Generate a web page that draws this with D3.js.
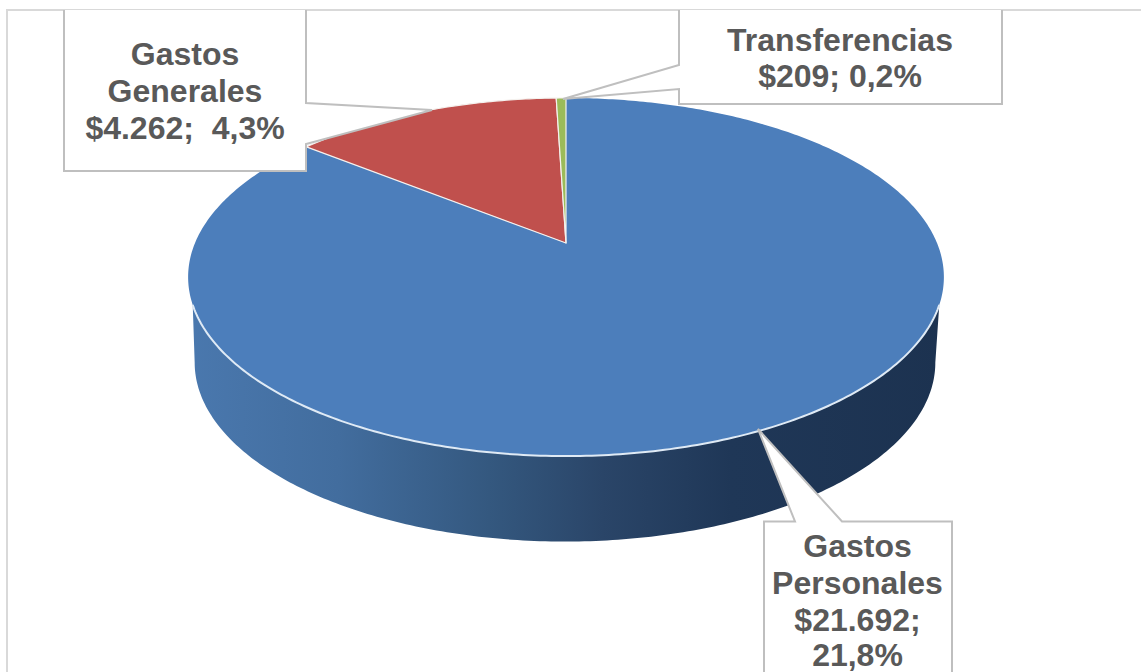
<!DOCTYPE html>
<html><head><meta charset="utf-8">
<style>html,body{margin:0;padding:0;background:#fff;overflow:hidden}svg{display:block}</style>
<script src="https://cdn.jsdelivr.net/npm/d3@7"></script></head>
<body><svg id="c" width="1141" height="672"></svg>
<script>
// Data
const categories = ["Gastos Personales", "Gastos Generales", "Transferencias"];
const amounts = ["$21.692", "$4.262", "$209"];
const percents = ["21,8%", "4,3%", "0,2%"];
const drawnShares = [85.7, 13.8, 0.5];   // slice sizes as drawn on the pie
const sliceColors = ["#4c7ebb", "#c0504d", "#9bbb59"];
const labelLines = [
  ["Gastos", "Personales", "$21.692;", "21,8%"],
  ["Gastos", "Generales", "$4.262;  4,3%"],
  ["Transferencias", "$209; 0,2%"]
];

const svg = d3.select("#c");
const defs = svg.append("defs");

// Perspective pie geometry
const cx = 566, apexY = 243, persp = 0.19, squash = -126.4, q = 371;
const project = (a, r = 1, dx = 1, dy = 0, sx = 0) => {
  const u = r * Math.sin(a), v = r * Math.cos(a), w = 1 + persp * v;
  return [cx + sx + dx * q * u / w, (apexY + squash * v) / w + dy];
};
const line = d3.line();
const arcPts = (a0, a1, fn) => {
  const n = Math.max(2, Math.ceil(Math.abs(a1 - a0) * 80));
  return d3.range(n + 1).map(i => fn(a0 + (a1 - a0) * i / n));
};

const pie = d3.pie().sort(null).value(d => d);
const slices = pie(drawnShares);

// outer frame
svg.append("path").attr("d", line([[7, 672], [7, 10], [1141, 10]]))
  .attr("fill", "none").attr("stroke", "#d9d9d9").attr("stroke-width", 2);

// side wall
const grad = defs.append("linearGradient").attr("id", "side")
  .attr("gradientUnits", "userSpaceOnUse").attr("x1", 187).attr("x2", 943).attr("y1", 0).attr("y2", 0);
[[0, "#4a78ae"], [0.2, "#426d9e"], [0.4, "#34587f"], [0.55, "#2a4568"], [0.72, "#1f3757"], [1, "#1c3250"]]
  .forEach(([o, c]) => grad.append("stop").attr("offset", o).attr("stop-color", c));

const depth = 85.5, bottomScale = 0.98;
const a0 = Math.PI * 0.609, a1 = Math.PI * 1.391;
const rimTop = arcPts(a0, a1, a => project(a));
const lowA0 = Math.PI * 0.561, lowA1 = Math.PI * 1.439;
const rimBottom = arcPts(lowA1, lowA0, a => project(a, 1, bottomScale, depth, -1));
svg.append("path").attr("d", line([...rimTop, ...rimBottom]) + "Z").attr("fill", "url(#side)");

// top face
const slicePath = s => line([[cx, apexY], ...arcPts(s.startAngle, s.endAngle, a => project(a))]) + "Z";
svg.selectAll("path.slice").data(slices).join("path").attr("class", "slice")
  .attr("d", slicePath)
  .attr("fill", (d, i) => sliceColors[i])
  .attr("stroke", (d, i) => i === 0 ? "none" : "#f4f1ee")
  .attr("stroke-width", 1.2).attr("stroke-linejoin", "round");

// light rim along the front of the top face
svg.append("path").attr("d", line(rimTop)).attr("fill", "none")
  .attr("stroke", "#dfeaf5").attr("stroke-width", 2);

// callouts
const callouts = [
  [[764, 700], [764, 521.5], [795, 521.5], [758, 429], [842, 521.5], [952, 521.5], [952, 700]],
  [[64, 10], [64, 171], [306, 171], [306, 144], [432, 110], [306, 103], [306, 10]],
  [[679, 10], [679, 65], [563, 99], [679, 89], [679, 104], [1002, 104], [1002, 10]]
];
svg.selectAll("path.callout").data(callouts).join("path").attr("class", "callout")
  .attr("d", d => line(d))
  .attr("fill", "#fff").attr("stroke", "#bfbfbf").attr("stroke-width", 2);

// labels
const labelX = [857.5, 185, 840];
const labelY = [[557, 594, 631, 666], [65, 102, 139], [51, 87]];
labelLines.forEach((lines, i) => {
  svg.append("text")
    .attr("text-anchor", "middle").attr("fill", "#595959")
    .attr("font-family", "'Liberation Sans', Arial, sans-serif")
    .attr("font-weight", 700).attr("font-size", 32)
    .style("white-space", "pre")
    .selectAll("tspan").data(lines).join("tspan")
    .attr("x", labelX[i]).attr("y", (d, j) => labelY[i][j]).text(d => d);
});
</script></body></html>
